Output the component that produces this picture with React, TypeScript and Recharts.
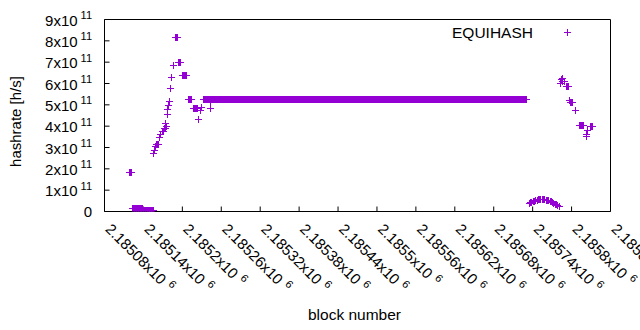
import { ScatterChart, Scatter, XAxis, YAxis } from 'recharts'

const COLOR = '#9400D3'
const FONT = '"Liberation Sans", Arial, sans-serif'

// stretches of consecutive blocks sharing one hashrate: [first block, last block, hashrate in 1e11 h/s]
const earlyRuns: [number, number, number][] = [
  [2185117, 2185121, 1.86],
  [2185123, 2185138, 0.15],
  [2185139, 2185154, 0.06],
  [2185160, 2185162, 3.17],
  [2185168, 2185170, 3.76],
  [2185171, 2185173, 3.92],
  [2185188, 2185192, 8.2],
  [2185193, 2185196, 7.03],
  [2185199, 2185206, 6.38],
  [2185209, 2185213, 5.28],
  [2185216, 2185223, 4.87],
]
const plateau: [number, number, number] = [2185232, 2185730, 5.28]
const lateRuns: [number, number, number][] = [
  [2185792, 2185794, 5.88],
  [2185797, 2185800, 5.12],
  [2185811, 2185818, 4.07],
  [2185828, 2185832, 4.0],
]

// single blocks: [block, hashrate in 1e11 h/s]
const risePoints: [number, number][] = [
  [2185152, 0.01], [2185155, 2.72], [2185156, 2.9], [2185158, 3.09], [2185164, 3.48],
  [2185166, 3.61], [2185174, 4.16], [2185175, 4.02], [2185176, 4.58], [2185177, 4.79],
  [2185178, 5.0], [2185179, 5.2], [2185181, 5.8], [2185183, 6.3], [2185185, 6.88],
  [2185224, 4.35], [2185227, 4.75], [2185229, 4.92], [2185242, 5.16], [2185242, 4.87],
]
const dipPoints: [number, number][] = [
  [2185734, 0.4], [2185736, 0.43], [2185738, 0.46], [2185740, 0.49], [2185742, 0.51],
  [2185744, 0.53], [2185746, 0.55], [2185748, 0.57], [2185750, 0.58], [2185752, 0.59],
  [2185754, 0.59], [2185756, 0.59], [2185758, 0.58], [2185760, 0.56], [2185762, 0.54],
  [2185764, 0.52], [2185766, 0.5], [2185768, 0.47], [2185770, 0.44], [2185772, 0.41],
  [2185774, 0.37], [2185776, 0.33], [2185778, 0.29], [2185780, 0.26],
]
const tailPoints: [number, number][] = [
  [2185782, 6.02], [2185784, 6.2], [2185785, 6.25], [2185786, 6.1], [2185788, 6.14],
  [2185796, 5.23], [2185806, 4.77], [2185822, 3.56], [2185823, 3.64], [2185824, 3.8],
]

const xTicks = [
  2185080, 2185140, 2185200, 2185260, 2185320, 2185380, 2185440,
  2185500, 2185560, 2185620, 2185680, 2185740, 2185800, 2185860,
]
const yTicks = [0, 1e11, 2e11, 3e11, 4e11, 5e11, 6e11, 7e11, 8e11, 9e11]

const data: { block: number; rate: number }[] = []
for (const [a, b, v] of [...earlyRuns, plateau, ...lateRuns]) {
  for (let n = a; n <= b; n++) data.push({ block: n, rate: v * 1e11 })
}
for (const [n, v] of [...risePoints, ...dipPoints, ...tailPoints]) data.push({ block: n, rate: v * 1e11 })

function Cross(props: any) {
  const { cx, cy } = props
  if (cx == null || cy == null) return null
  const x = Math.round(cx)
  const y = Math.round(cy)
  return <path d={`M${x - 3},${y + 0.5}H${x + 4}M${x + 0.5},${y - 3}V${y + 4}`} stroke={COLOR} strokeWidth={1} fill="none" />
}

function XTick({ x, y, payload }: any) {
  const m = String(payload.value / 1e6)
  return (
    <text x={x} y={y} transform={`rotate(45 ${x} ${y})`} fontSize={15} fill="#000" fontFamily={FONT}>
      {`${m}x10`}
      <tspan dx={5} dy={-6} fontSize={11}>6</tspan>
    </text>
  )
}

function YTick({ x, y, payload }: any) {
  const v = payload.value
  if (v === 0) return <text x={x} y={y + 5} textAnchor="end" fontSize={15} fill="#000" fontFamily={FONT}>0</text>
  return (
    <text x={x} y={y + 6} textAnchor="end" fontSize={15} fill="#000" fontFamily={FONT}>
      {`${v / 1e11}x10`}
      <tspan dx={3} dy={-6.5} fontSize={11}>11</tspan>
    </text>
  )
}

const axisStroke = { stroke: '#000' }

export default function App() {
  return (
    <div style={{ position: 'absolute', left: 0, top: 0, width: 640, height: 330, background: '#fff', fontFamily: FONT }}>
      <ScatterChart width={640} height={330} margin={{ top: 18.5, right: 28.5, bottom: 88.5, left: 44.5 }}>
        <XAxis type="number" dataKey="block" domain={[2185080, 2185860]} ticks={xTicks} interval={0}
          allowDataOverflow height={30} tickSize={-5} tickMargin={23.5} tick={<XTick />}
          axisLine={axisStroke} tickLine={axisStroke} />
        <XAxis xAxisId="top" orientation="top" type="number" domain={[2185080, 2185860]} ticks={xTicks} interval={0}
          allowDataOverflow height={1} tickSize={-5} tick={false}
          axisLine={axisStroke} tickLine={axisStroke} />
        <YAxis type="number" dataKey="rate" domain={[0, 9e11]} ticks={yTicks} interval={0}
          allowDataOverflow width={60} tickSize={-5} tickMargin={17.5} tick={<YTick />}
          axisLine={axisStroke} tickLine={axisStroke} />
        <YAxis yAxisId="right" orientation="right" type="number" domain={[0, 9e11]} ticks={yTicks} interval={0}
          allowDataOverflow width={1} tickSize={-5} tick={false}
          axisLine={axisStroke} tickLine={axisStroke} />
        <Scatter data={data} dataKey="rate" fill={COLOR} shape={<Cross />} isAnimationActive={false} />
      </ScatterChart>
      <svg width={640} height={330} style={{ position: 'absolute', left: 0, top: 0, pointerEvents: 'none' }}>
        <text x={21} y={121.5} transform="rotate(-90 21 121.5)" textAnchor="middle" fontSize={15} fill="#000" fontFamily={FONT}>
          hashrate [h/s]
        </text>
        <text x={354.5} y={320} textAnchor="middle" fontSize={15.5} fill="#000" fontFamily={FONT}>block number</text>
        <text x={533} y={37.5} textAnchor="end" fontSize={15.5} fill="#000" fontFamily={FONT}>EQUIHASH</text>
        <path d="M564,32.5H571M567.5,29V36" stroke={COLOR} strokeWidth={1} fill="none" />
      </svg>
    </div>
  )
}
